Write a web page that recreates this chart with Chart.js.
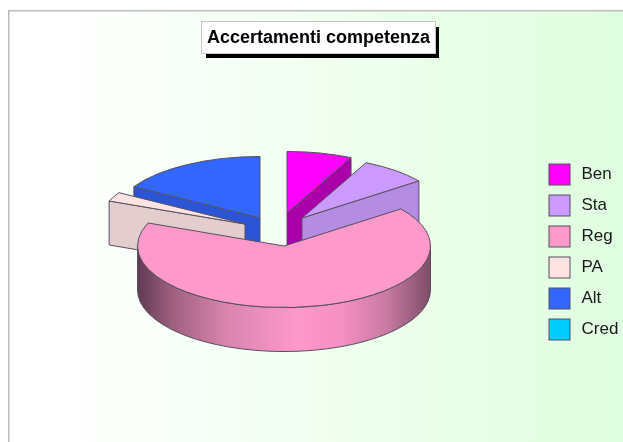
<!DOCTYPE html>
<html lang="it">
<head>
<meta charset="utf-8">
<title>Accertamenti competenza</title>
<script src="https://cdn.jsdelivr.net/npm/chart.js@4"></script>
<style>
    html, body { margin: 0; padding: 0; background: #fff; overflow: hidden; }
    #grafico { display: block; }
</style>
</head>
<body>
<canvas id="grafico" width="623" height="442"></canvas>
<script>
const categorie = ['Ben', 'Sta', 'Reg', 'PA', 'Alt', 'Cred'];
const valori = [7.2, 7.5, 66.4, 2.4, 16.5, 0];
const coloriFetta = ['#ff00ff', '#cc99ff', '#ff99cc', '#ffe3e3', '#3366ff', '#00ccff'];
const coloriTaglio = ['#aa00aa', '#b48de2', '#ff99cc', '#e3cdcd', '#2b55d6', '#00a0cc'];

// How far each slice is pulled out of the pie, in pixels
const stacco = { Ben: [3, -33], Sta: [18, -28], Reg: [0, 0], PA: [-39, -22], Alt: [-24, -28], Cred: [0, 0] };
// Slices are painted back to front so nearer ones cover the cut faces behind them
const ordineDisegno = [0, 1, 4, 3, 2, 5];
const SCHIACCIAMENTO = 0.42;
const SPESSORE = 44;
const BORDO = '#55505f';
const LATO_CAMPIONE = 21;
const PASSO_LEGENDA = 31;

const torta3d = {
    id: 'torta3d',

    // Box sizes are decided here so the pie, title and legend sit where they belong
    afterLayout(chart) {
        const area = chart.chartArea;
        area.left = 137;
        area.right = 431;
        area.top = 99;
        area.bottom = 393;
        area.width = 294;
        area.height = 294;

        const titolo = chart.titleBlock;
        titolo.left = 202;
        titolo.right = 435;
        titolo.top = 22;
        titolo.bottom = 53;

        const legenda = chart.legend;
        legenda.left = 539;
        legenda.right = 623;
        legenda.top = 154;
        legenda.bottom = 360;
    },

    beforeDraw(chart) {
        const { ctx, width, height } = chart;

        const sfondo = ctx.createLinearGradient(8, 0, width, 0);
        sfondo.addColorStop(0, '#ffffff');
        sfondo.addColorStop(0.08, '#ffffff');
        sfondo.addColorStop(1, '#e0ffe0');
        ctx.fillStyle = '#ffffff';
        ctx.fillRect(0, 0, width, height);
        ctx.fillStyle = sfondo;
        ctx.fillRect(9, 11, width - 9, height - 11);

        // Grey frame on the top and left sides only
        ctx.fillStyle = '#bdbdbd';
        ctx.fillRect(8, 10, width - 8, 1.5);
        ctx.fillRect(8, 10, 1.5, height - 10);

        // Title box with its hard black shadow
        const t = chart.titleBlock;
        ctx.fillStyle = '#000000';
        ctx.fillRect(t.left + 4, t.top + 5, t.right - t.left, t.bottom - t.top);
        ctx.fillStyle = '#ffffff';
        ctx.fillRect(t.left, t.top, t.right - t.left, t.bottom - t.top);
        ctx.strokeStyle = '#c4c4c4';
        ctx.lineWidth = 1;
        ctx.strokeRect(t.left - 0.5, t.top - 0.5, t.right - t.left + 1, t.bottom - t.top + 1);
    },

    // The arcs keep the angles the doughnut controller gave them, but are painted as tilted solids
    beforeDatasetsDraw(chart) {
        const { ctx } = chart;
        const archi = chart.getDatasetMeta(0).data;

        ctx.save();
        ctx.lineJoin = 'round';
        ordineDisegno.forEach(i => {
            if (archi[i].circumference > 0) {
                disegnaFetta(ctx, archi[i], i);
            }
        });
        ctx.restore();
        return false;
    },

    // Legend swatches are narrower than the space the legend reserves for them
    afterDraw(chart) {
        const { ctx, legend } = chart;
        const padding = legend.options.labels.padding;
        ctx.save();
        ctx.lineWidth = 1;
        legend.legendItems.forEach((voce, i) => {
            const x = legend.left + padding;
            const y = legend.top + padding + i * PASSO_LEGENDA;
            ctx.fillStyle = coloriFetta[voce.index];
            ctx.strokeStyle = BORDO;
            ctx.fillRect(x, y, LATO_CAMPIONE, LATO_CAMPIONE);
            ctx.strokeRect(x, y, LATO_CAMPIONE, LATO_CAMPIONE);
        });
        ctx.restore();
    }
};

function disegnaFetta(ctx, arco, i) {
    const [dx, dy] = stacco[categorie[i]];
    const cx = arco.x + dx;
    const cy = arco.y + dy;
    const rx = arco.outerRadius;
    const ry = rx * SCHIACCIAMENTO;
    const { startAngle: inizio, endAngle: fine } = arco;
    const px = a => cx + rx * Math.cos(a);
    const py = a => cy + ry * Math.sin(a);

    ctx.strokeStyle = BORDO;
    ctx.lineWidth = 1;

    // Radial cut faces, only those turned towards the viewer
    const taglio = a => {
        ctx.beginPath();
        ctx.moveTo(cx, cy);
        ctx.lineTo(px(a), py(a));
        ctx.lineTo(px(a), py(a) + SPESSORE);
        ctx.lineTo(cx, cy + SPESSORE);
        ctx.closePath();
        ctx.fillStyle = coloriTaglio[i];
        ctx.fill();
        ctx.stroke();
    };
    if (Math.cos(inizio) < -1e-6) taglio(inizio);
    if (Math.cos(fine) > 1e-6) taglio(fine);

    // Outer wall along the near half of the rim
    const a0 = Math.max(inizio, 0);
    const a1 = Math.min(fine, Math.PI);
    if (a1 > a0) {
        const muro = ctx.createLinearGradient(cx - rx, 0, cx + rx, 0);
        muro.addColorStop(0, '#5f3a52');
        muro.addColorStop(0.12, '#a0607f');
        muro.addColorStop(0.3, '#d884ae');
        muro.addColorStop(0.55, '#ff99cc');
        muro.addColorStop(0.7, '#f58fc2');
        muro.addColorStop(0.85, '#c97aa2');
        muro.addColorStop(1, '#7e4d68');
        ctx.beginPath();
        ctx.ellipse(cx, cy, rx, ry, 0, a0, a1);
        ctx.ellipse(cx, cy + SPESSORE, rx, ry, 0, a1, a0, true);
        ctx.closePath();
        ctx.fillStyle = muro;
        ctx.fill();
        ctx.stroke();
    }

    // Top face
    ctx.beginPath();
    ctx.moveTo(cx, cy);
    ctx.ellipse(cx, cy, rx, ry, 0, inizio, fine);
    ctx.closePath();
    ctx.fillStyle = arco.options.backgroundColor;
    ctx.fill();
    ctx.stroke();
}

document.addEventListener('DOMContentLoaded', () => {
    const vociPie = Chart.overrides.pie.plugins.legend.labels.generateLabels;

    new Chart(document.getElementById('grafico'), {
        type: 'pie',
        data: {
            labels: categorie,
            datasets: [{
                data: valori,
                backgroundColor: coloriFetta,
                borderColor: BORDO,
                borderWidth: 1
            }]
        },
        options: {
            responsive: false,
            animation: false,
            plugins: {
                title: {
                    display: true,
                    text: 'Accertamenti competenza',
                    color: '#000000',
                    padding: { top: 5, bottom: 5 },
                    font: { family: '"Liberation Sans", Arial, sans-serif', size: 18, weight: 'bold' }
                },
                legend: {
                    position: 'right',
                    align: 'start',
                    labels: {
                        boxWidth: 24,
                        boxHeight: 21,
                        padding: 10,
                        color: '#1a1a1a',
                        font: { family: '"Liberation Sans", Arial, sans-serif', size: 17 },
                        // Only the text comes from the legend, the swatches are painted in afterDraw
                        generateLabels: chart => vociPie(chart).map(voce => ({
                            ...voce,
                            fillStyle: 'transparent',
                            strokeStyle: 'transparent'
                        }))
                    }
                },
                tooltip: { enabled: false }
            }
        },
        plugins: [torta3d]
    });
});
</script>
</body>
</html>
